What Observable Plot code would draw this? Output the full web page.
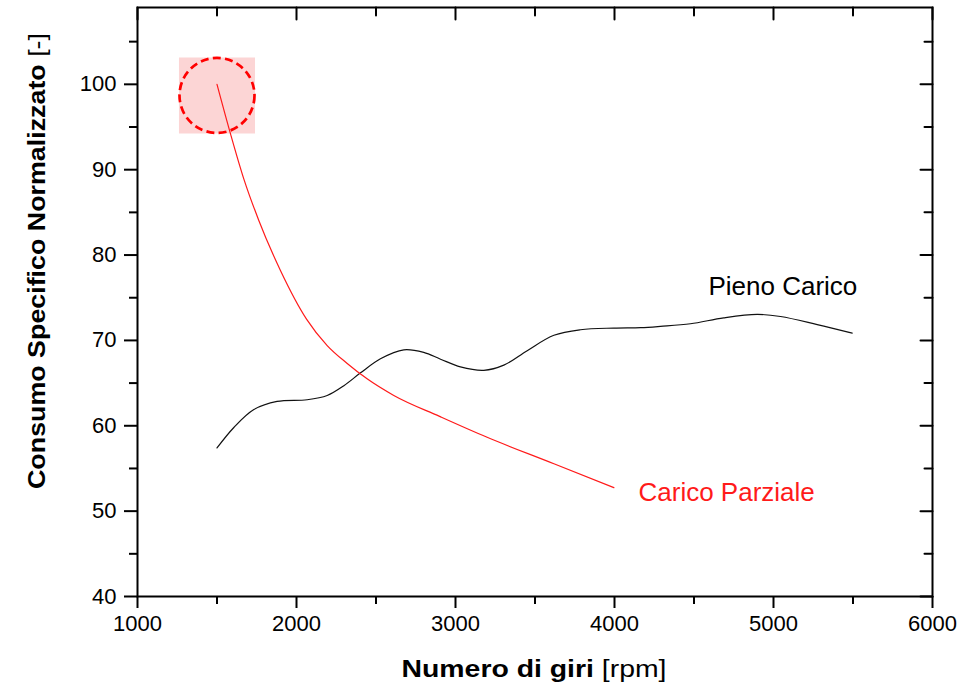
<!DOCTYPE html>
<html><head><meta charset="utf-8">
<script src="https://cdn.jsdelivr.net/npm/d3@7"></script>
<script src="https://cdn.jsdelivr.net/npm/@observablehq/plot@0.6"></script>
<style>
body{margin:0;background:#fff;}
svg{font-family:"Liberation Sans", Arial, sans-serif;}
</style>
</head><body><div id="chart"></div>
<script>
// Pieno Carico (full load)
const pienoRpm = [1500,1606,1732,1878,2067,2193,2298,2403,2528,2675,2800,2906,3031,3178,3304,3451,3619,3786,3996,4164,4289,4478,4687,4897,5044,5275,5495];
const pienoVal = [57.4,59.8,61.9,62.85,63.05,63.55,64.7,66.2,67.85,68.9,68.6,67.8,66.9,66.5,67.1,68.8,70.6,71.25,71.45,71.5,71.65,71.95,72.65,73.05,72.8,71.85,70.85];
// Carico Parziale (partial load)
const parzRpm = [1500,1585,1669,1763,1899,2063,2193,2319,2444,2612,2900,3199,3619,3996];
const parzVal = [100,94.2,88.9,84.05,78.2,72.5,69.4,67.3,65.5,63.55,61.1,58.65,55.55,52.75];
// ticks
const xMajorTicks = [1000,2000,3000,4000,5000,6000];
const xMinorTicks = [1500,2500,3500,4500,5500];
const yMajorTicks = [40,50,60,70,80,90,100];
const yMinorTicks = [45,55,65,75,85,95,105];
// annotations
const highlight = [{rpm:1500, value:98.7}];
const seriesLabels = [
  {rpm:4591, value:76.3, text:"Pieno Carico", color:"#000"},
  {rpm:4151, value:52.2, text:"Carico Parziale", color:"#ff1a1a"}
];
const xTitleBold = "Numero di giri", xTitleUnit = " [rpm]";
const yTitleBold = "Consumo Specifico Normalizzato", yTitleUnit = " [-]";

const pieno = pienoRpm.map((r,i)=>({rpm:r, value:pienoVal[i]}));
const parz = parzRpm.map((r,i)=>({rpm:r, value:parzVal[i]}));

const W = 961, H = 689;
const mL = 137, mR = 29, mT = 7, mB = 93;
const fmt = d => String(d);
const blank = () => "";
const tickShape = {draw(context, l) { context.moveTo(0, 0); context.lineTo(0, -l); }};
const inTick = (ticks, side, len) => side === "top"
  ? Plot.vector(ticks, {x: d => d, frameAnchor: "top", length: len, rotate: 180, anchor: "start", shape: tickShape, stroke: "#000", strokeWidth: 2})
  : Plot.vector(ticks, {y: d => d, frameAnchor: "right", length: len, rotate: -90, anchor: "start", shape: tickShape, stroke: "#000", strokeWidth: 2});

const plot = Plot.plot({
  width: W, height: H,
  marginLeft: mL, marginRight: mR, marginTop: mT, marginBottom: mB,
  x: {domain:[1000,6000], label:null},
  y: {domain:[40,109], label:null},
  style: {fontFamily: "Liberation Sans, Arial, sans-serif", background: "#fff"},
  marks: [
    Plot.dot(highlight, {x:"rpm", y:"value", symbol:"square", r:42.9, fill:"#fcd5d5", stroke:"none"}),
    Plot.dot(highlight, {x:"rpm", y:"value", r:37.5, fill:"none", stroke:"#ff0000", strokeWidth:2.7, strokeDasharray:"8,4.3"}),
    Plot.line(pieno, {x:"rpm", y:"value", curve:"catmull-rom", stroke:"#111", strokeWidth:1.2}),
    Plot.line(parz, {x:"rpm", y:"value", curve:"monotone-x", stroke:"#ff1a1a", strokeWidth:1.2}),
    Plot.text(seriesLabels, {x:"rpm", y:"value", text:"text", fill:"color", textAnchor:"start", fontSize:26}),
    Plot.frame({stroke:"#000", strokeWidth:2}),
    Plot.axisX(xMajorTicks, {anchor:"bottom", tickSize:12, tickPadding:7, strokeWidth:2, fontSize:22, tickFormat:fmt, label:null}),
    Plot.axisX(xMinorTicks, {anchor:"bottom", tickSize:8, strokeWidth:2, tickFormat:blank, label:null}),
    Plot.axisY(yMajorTicks, {anchor:"left", tickSize:13, tickPadding:8, strokeWidth:2, fontSize:22, tickFormat:fmt, label:null}),
    Plot.axisY(yMinorTicks, {anchor:"left", tickSize:8, strokeWidth:2, tickFormat:blank, label:null}),
    inTick(xMajorTicks, "top", 12),
    inTick(xMinorTicks, "top", 8),
    inTick(yMajorTicks, "right", 12),
    inTick(yMinorTicks, "right", 8)
  ]
});

const svg = d3.select(plot);
const xt = svg.append("text")
  .attr("x", 534).attr("y", 677)
  .attr("text-anchor", "middle")
  .attr("font-size", 23).attr("fill", "#000")
  .attr("textLength", 265).attr("lengthAdjust", "spacingAndGlyphs");
xt.append("tspan").attr("font-weight", "bold").text(xTitleBold);
xt.append("tspan").text(xTitleUnit);

const yt = svg.append("text")
  .attr("transform", "translate(45,261) rotate(-90)")
  .attr("text-anchor", "middle")
  .attr("font-size", 24).attr("fill", "#000")
  .attr("textLength", 456).attr("lengthAdjust", "spacingAndGlyphs");
yt.append("tspan").attr("font-weight", "bold").text(yTitleBold);
yt.append("tspan").text(yTitleUnit);

document.getElementById("chart").appendChild(plot);
</script>
</body></html>
